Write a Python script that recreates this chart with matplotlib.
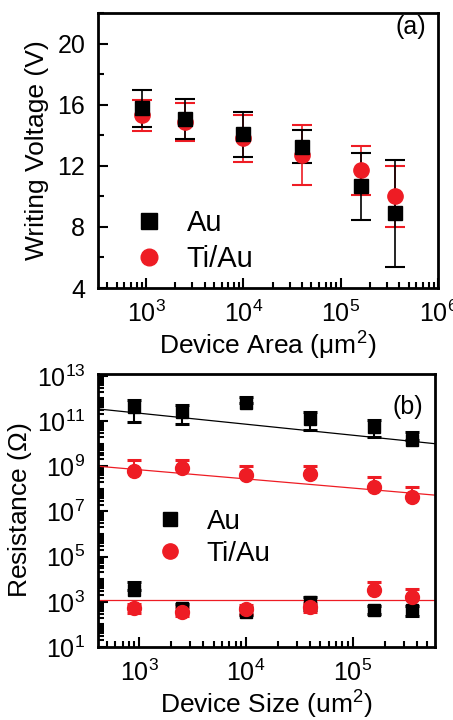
import numpy as np
import matplotlib.pyplot as plt
from matplotlib.lines import Line2D
from matplotlib.ticker import LogLocator, NullFormatter, FixedLocator, MultipleLocator

plt.rcParams['font.family'] = ['Liberation Sans', 'DejaVu Sans']
plt.rcParams['mathtext.fontset'] = 'custom'
plt.rcParams['mathtext.rm'] = 'Liberation Sans'
plt.rcParams['mathtext.it'] = 'Liberation Sans'

red = '#ee1c24'

# device areas (um^2)
area = [900, 2500, 10000, 40000, 160000, 360000]

# (a) writing voltage
v_au = [15.75, 15.05, 14.05, 13.25, 10.65, 8.9]
v_au_err = [1.2, 1.3, 1.5, 1.1, 2.2, 3.5]
v_ti = [15.3, 14.85, 13.8, 12.7, 11.7, 10.0]
v_ti_err = [1.0, 1.25, 1.55, 1.95, 1.6, 2.0]

# (b) resistance, high state
r_au_hi = [4.2e11, 2.5e11, 6.2e11, 1.26e11, 5.5e10, 1.5e10]
r_au_hi_top = [8.7e11, 5.2e11, 1.2e12, 2.5e11, 1.07e11, 3.2e10]
r_au_hi_bot = [9.1e10, 7.6e10, 6.2e11, 4.2e10, 1.95e10, 1.5e10]
r_ti_hi = [6.0e8, 8.0e8, 4.0e8, 4.5e8, 1.15e8, 4.2e7]
r_ti_hi_top = [1.8e9, 1.8e9, 1.0e9, 1.07e9, 3.2e8, 1.15e8]

# (b) resistance, low state
r_au_lo = [3400, 525, 370, 1020, 450, 420]
r_au_lo_top = [7400, 810, 525, 1700, 680, 680]
r_au_lo_bot = [3400, 340, 265, 450, 295, 240]
r_ti_lo = [525, 370, 480, 575, 3400, 1580]
r_ti_lo_top = [800, 620, 690, 930, 7900, 3600]
r_ti_lo_bot = [315, 225, 275, 365, 3400, 1580]

# power-law fits  log10(R) = a + k*log10(A)
fit_au_hi = [12.81, -0.487]
fit_ti_hi = [10.06, -0.405]
fit_lo = [3.09, 0.0]

fig = plt.figure(figsize=(4.53, 7.2), dpi=100)

handles = [Line2D([], [], ls='none', marker='s', color='black', ms=11),
           Line2D([], [], ls='none', marker='o', color=red, ms=12)]
labels = ['Au', 'Ti/Au']

# ---------- (a)
ax1 = fig.add_axes([0.216, 0.600, 0.751, 0.382])
ax1.errorbar(area, v_ti, yerr=v_ti_err, fmt='o', color=red, ms=11, mec=red,
             ecolor=red, elinewidth=1.2, capsize=7, capthick=1.5)
ax1.errorbar(area, v_au, yerr=v_au_err, fmt='s', color='black', ms=10,
             ecolor='black', elinewidth=1.2, capsize=7, capthick=1.5)
ax1.set_xscale('log')
ax1.set_xlim(320, 1e6)
ax1.set_ylim(4, 22)
ax1.yaxis.set_major_locator(FixedLocator([4, 8, 12, 16, 20]))
ax1.yaxis.set_minor_locator(MultipleLocator(2))
ax1.xaxis.set_major_locator(LogLocator(base=10, numticks=10))
ax1.xaxis.set_minor_locator(LogLocator(base=10, subs=np.arange(2, 10), numticks=20))
ax1.xaxis.set_minor_formatter(NullFormatter())
ax1.set_ylabel('Writing Voltage (V)', fontsize=19, labelpad=6)
ax1.set_xlabel(r'Device Area ($\mathrm{\mu m^2}$)', fontsize=19, labelpad=2)
ax1.text(0.92, 0.95, '(a)', transform=ax1.transAxes, fontsize=18,
         ha='center', va='center')
ax1.legend(handles, labels, loc='lower left', bbox_to_anchor=(0.03, -0.04),
           frameon=False, fontsize=21, handlelength=1.0, handletextpad=0.8,
           labelspacing=0.25)

# ---------- (b)
ax2 = fig.add_axes([0.216, 0.1014, 0.744, 0.379])
xs = np.logspace(np.log10(400), np.log10(6e5), 50)
ax2.plot(xs, 10 ** (fit_au_hi[0] + fit_au_hi[1] * np.log10(xs)), color='black', lw=0.9)
ax2.plot(xs, 10 ** (fit_ti_hi[0] + fit_ti_hi[1] * np.log10(xs)), color=red, lw=0.9)
ax2.plot(xs, 10 ** (fit_lo[0] + fit_lo[1] * np.log10(xs)), color=red, lw=0.9)

a = np.array(area)
def eb(ax, y, top, bot, fmt, c, ms):
    y = np.array(y)
    err = [y - np.array(bot), np.array(top) - y]
    ax.errorbar(a, y, yerr=err, fmt=fmt, color=c, mec=c, ms=ms, ecolor=c,
                elinewidth=1.5, capsize=5, capthick=2.2)

eb(ax2, r_au_hi, r_au_hi_top, r_au_hi_bot, 's', 'black', 9)
eb(ax2, r_au_lo, r_au_lo_top, r_au_lo_bot, 's', 'black', 9)
eb(ax2, r_ti_hi, r_ti_hi_top, r_ti_hi, 'o', red, 10)
eb(ax2, r_ti_lo, r_ti_lo_top, r_ti_lo_bot, 'o', red, 10)

ax2.set_xscale('log')
ax2.set_yscale('log')
ax2.set_xlim(410, 5.9e5)
ax2.set_ylim(10, 1.2e13)
ax2.yaxis.set_major_locator(FixedLocator([1e1, 1e3, 1e5, 1e7, 1e9, 1e11, 1e13]))
ax2.yaxis.set_minor_locator(LogLocator(base=10, subs=np.arange(1, 10), numticks=30))
ax2.yaxis.set_minor_formatter(NullFormatter())
ax2.xaxis.set_major_locator(LogLocator(base=10, numticks=10))
ax2.xaxis.set_minor_locator(LogLocator(base=10, subs=np.arange(2, 10), numticks=20))
ax2.xaxis.set_minor_formatter(NullFormatter())
ax2.set_ylabel(r'Resistance ($\Omega$)', fontsize=19, labelpad=2)
ax2.set_xlabel(r'Device Size (um$^2$)', fontsize=19, labelpad=2)
ax2.text(0.92, 0.88, '(b)', transform=ax2.transAxes, fontsize=18,
         ha='center', va='center')
handles_b = [Line2D([], [], ls='none', marker='s', color='black', ms=10),
             Line2D([], [], ls='none', marker='o', color=red, ms=11)]
ax2.legend(handles_b, labels, loc='center left', bbox_to_anchor=(0.10, 0.40),
           frameon=False, fontsize=20, handlelength=1.0, handletextpad=0.8,
           labelspacing=0.2)

for ax in (ax1, ax2):
    for s in ax.spines.values():
        s.set_linewidth(2)
    ax.tick_params(which='both', direction='in', top=False, right=False,
                   labelsize=18, width=1.5)
    ax.tick_params(which='major', length=7, pad=9)
    ax.tick_params(which='minor', length=4)

fig.savefig('out.png', dpi=100)
